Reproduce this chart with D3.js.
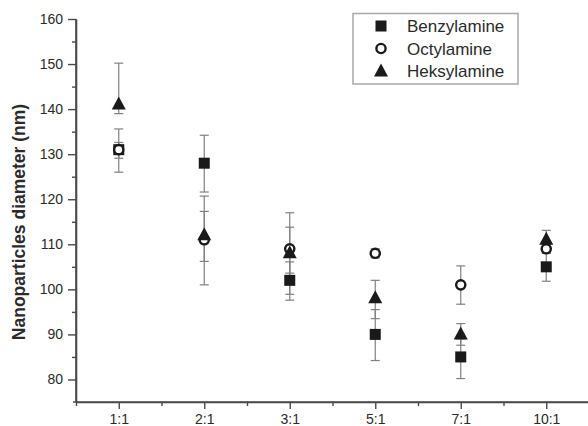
<!DOCTYPE html>
<html><head><meta charset="utf-8">
<script src="https://cdn.jsdelivr.net/npm/d3@7"></script>
<style>html,body{margin:0;padding:0;background:#fff;}svg{display:block;}</style>
</head><body>
<svg id="c" width="588" height="426"></svg>
<script>
const categories = ["1:1","2:1","3:1","5:1","7:1","10:1"];
const seriesNames = ["Benzylamine","Octylamine","Heksylamine"];
const benzylamine = [131,128,102,90,85,105];
const octylamine  = [131,111,109,108,101,109];
const heksylamine = [141,112,108,98,90,111];
// error bar bounds [low, high]
const benzylamineErr = [[126,135.6],[121.6,134.2],[97.6,106.1],[84.2,95.5],[80.2,89],[101.8,108]];
const octylamineErr  = [[129.1,132.6],[106.2,117.3],[103.6,113.8],[107,109],[96.7,105.2],[108,110]];
const heksylamineErr = [[139,150.2],[101,120.7],[98.9,117],[93.5,102],[87.6,92.4],[109,113.1]];
const yMajorTicks = [80,90,100,110,120,130,140,150,160];
const yMinorTicks = [85,95,105,115,125,135,145,155];
const yTitle = "Nanoparticles diameter (nm)";

const svg = d3.select("#c");
const x = d3.scaleLinear().domain([0.5,6.5]).range([76,589]);
const y = d3.scaleLinear().domain([75,160]).range([402,19]);
const axisColor = "#4a4a4a", textColor = "#2a2a2a", errColor = "#808080";
const font = "'Liberation Sans', Arial, sans-serif";

// Y axis
const yAxisMajor = svg.append("g").attr("transform",`translate(${x(0.5)},0)`)
  .call(d3.axisLeft(y).tickValues(yMajorTicks).tickSize(8).tickPadding(5).tickSizeOuter(0));
const yAxisMinor = svg.append("g").attr("transform",`translate(${x(0.5)},0)`)
  .call(d3.axisLeft(y).tickValues(yMinorTicks).tickSize(4).tickFormat("").tickSizeOuter(0));
// X axis
const xAxisMajor = svg.append("g").attr("transform",`translate(0,${y(75)})`)
  .call(d3.axisBottom(x).tickValues([1,2,3,4,5,6]).tickFormat(d=>categories[d-1]).tickSize(7).tickPadding(5).tickSizeOuter(0));
const xAxisMinor = svg.append("g").attr("transform",`translate(0,${y(75)})`)
  .call(d3.axisBottom(x).tickValues([0.5,1.5,2.5,3.5,4.5,5.5]).tickSize(4).tickFormat("").tickSizeOuter(0));
[yAxisMajor,yAxisMinor,xAxisMajor,xAxisMinor].forEach(g=>{
  g.selectAll("path.domain").attr("stroke",axisColor).attr("stroke-width",1.6);
  g.selectAll(".tick line").attr("stroke",axisColor).attr("stroke-width",1.4);
  g.selectAll(".tick text").attr("fill",textColor).style("font-family",font).style("font-size","14px");
});
xAxisMajor.select("path.domain").attr("d",`M${x(0.5)-3},0H588`);
yAxisMajor.select("path.domain").attr("d",`M0,${y(160)}V${y(75)}`);

// Y title
svg.append("text").attr("transform",`translate(25,222) rotate(-90)`)
  .attr("text-anchor","middle").attr("fill",textColor)
  .style("font-family",font).style("font-size","17.5px").style("font-weight","bold")
  .text(yTitle);

const series = [
  {name:seriesNames[0], vals:benzylamine, err:benzylamineErr, shape:"square"},
  {name:seriesNames[1], vals:octylamine, err:octylamineErr, shape:"circle"},
  {name:seriesNames[2], vals:heksylamine, err:heksylamineErr, shape:"triangle"}
];

// error bars
series.forEach(s=>{
  const g = svg.append("g").attr("stroke",errColor).attr("stroke-width",1.2);
  s.err.forEach((e,i)=>{
    const cx = x(i+1);
    g.append("line").attr("x1",cx).attr("x2",cx).attr("y1",y(e[0])).attr("y2",y(e[1]));
    g.append("line").attr("x1",cx-4.5).attr("x2",cx+4.5).attr("y1",y(e[0])).attr("y2",y(e[0]));
    g.append("line").attr("x1",cx-4.5).attr("x2",cx+4.5).attr("y1",y(e[1])).attr("y2",y(e[1]));
  });
});

function drawMarker(g, shape, cx, cy){
  if(shape==="square"){
    g.append("rect").attr("x",cx-5.5).attr("y",cy-5.5).attr("width",11).attr("height",11).attr("fill","#1a1a1a");
  } else if(shape==="circle"){
    g.append("circle").attr("cx",cx).attr("cy",cy).attr("r",4.6).attr("fill","#fff").attr("stroke","#1a1a1a").attr("stroke-width",2.4);
  } else {
    g.append("path").attr("d",`M${cx},${cy-8}L${cx+7},${cy+5}L${cx-7},${cy+5}Z`).attr("fill","#1a1a1a");
  }
}
series.forEach(s=>{
  const g = svg.append("g");
  s.vals.forEach((v,i)=>drawMarker(g, s.shape, x(i+1), y(v)));
});

// legend
const lg = svg.append("g");
lg.append("rect").attr("x",353).attr("y",13.5).attr("width",165).attr("height",70.5)
  .attr("fill","#fff").attr("stroke","#a8a8a8").attr("stroke-width",1.5);
series.forEach((s,i)=>{
  const cy = 26 + i*22.5;
  drawMarker(lg, s.shape, 381, cy + (s.shape==="triangle"?0.5:0));
  lg.append("text").attr("x",407).attr("y",cy+6).attr("fill",textColor)
    .style("font-family",font).style("font-size","17px").text(s.name);
});
</script>
</body></html>
